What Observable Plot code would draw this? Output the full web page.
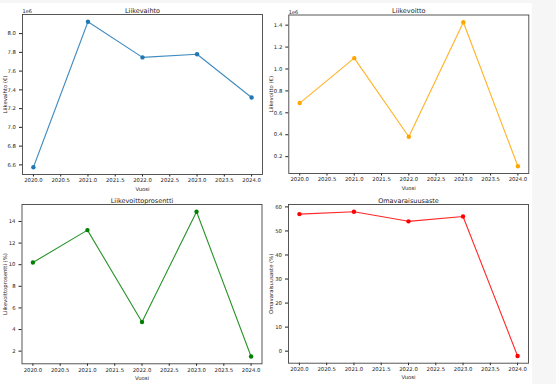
<!DOCTYPE html>
<html><head><meta charset="utf-8">
<script src="https://cdn.jsdelivr.net/npm/d3@7"></script>
<script src="https://cdn.jsdelivr.net/npm/@observablehq/plot@0.6"></script>
<style>
html,body{margin:0;padding:0;background:#f6f6f6;}
#fig{position:relative;width:556px;height:384px;overflow:hidden;background:#f6f6f6;}
#paper{position:absolute;left:0;top:3px;width:532px;height:381px;background:#fff;}
.panel{position:absolute;}
.panel svg{overflow:visible;}
</style></head><body><div id="fig"><div id="paper"></div></div>
<script>
const years = [2020, 2021, 2022, 2023, 2024];
const xTicks = [2020, 2020.5, 2021, 2021.5, 2022, 2022.5, 2023, 2023.5, 2024];
const liikevaihto = [6575000, 8126000, 7746000, 7780000, 7319000];
const liikevoitto = [689000, 1099000, 382000, 1427000, 112000];
const liikevoittoprosentti = [10.2, 13.2, 4.7, 14.9, 1.5];
const omavaraisuusaste = [57, 58, 54, 56, -2];
const ticksLiikevaihto = [6.6e6, 6.8e6, 7.0e6, 7.2e6, 7.4e6, 7.6e6, 7.8e6, 8.0e6];
const ticksLiikevoitto = [0.2e6, 0.4e6, 0.6e6, 0.8e6, 1.0e6, 1.2e6, 1.4e6];
const ticksProsentti = [2, 4, 6, 8, 10, 12, 14];
const ticksOmavaraisuus = [0, 10, 20, 30, 40, 50, 60];
const titles = ["Liikevaihto", "Liikevoitto", "Liikevoittoprosentti", "Omavaraisuusaste"];
const ylabels = ["Liikevaihto (€)", "Liikevoitto (€)", "Liikevoittoprosentti (%)", "Omavaraisuusaste (%)"];
const xlabel = "Vuosi";
const colors = ["#1f77b4", "#ffa500", "#008000", "#ff0000"];

function pad(ext) { const p = (ext[1] - ext[0]) * 0.05; return [ext[0] - p, ext[1] + p]; }

function panel({values, color, title, ylabel, yTicks, yFmt, exp, left, top, width, height, mL, mR, mT, mB, labelX}) {
  const data = years.map((y, i) => ({year: y, value: values[i]}));
  const chart = Plot.plot({
    width, height, marginLeft: mL, marginRight: mR, marginTop: mT, marginBottom: mB,
    style: {fontFamily: "DejaVu Sans", fontSize: "5.3px", color: "#222", background: "transparent"},
    x: {domain: pad(d3.extent(years))},
    y: {domain: pad(d3.extent(values))},
    marks: [
      Plot.axisX({ticks: xTicks, tickFormat: d => d.toFixed(1), tickSize: 2.5, tickPadding: 1.5,
        label: xlabel, labelAnchor: "center", labelArrow: "none", labelOffset: 16}),
      Plot.axisY({ticks: yTicks, tickFormat: yFmt, tickSize: 3, tickPadding: 3.5, label: null}),
      Plot.text([ylabel], {text: d => d, frameAnchor: "left", rotate: -90, dx: -(mL - labelX),
        textAnchor: "middle", lineAnchor: "top", fill: "#222", fontSize: 5.3}),
      Plot.line(data, {x: "year", y: "value", stroke: color, strokeWidth: 1.1, strokeOpacity: 0.85}),
      Plot.dot(data, {x: "year", y: "value", fill: color, r: 2.2}),
      Plot.frame({stroke: "#444", strokeWidth: 0.9}),
      Plot.text([title], {text: d => d, frameAnchor: "top", dy: -2, lineAnchor: "bottom", fontSize: 6.5, fill: "#222"}),
      exp ? Plot.text([exp], {text: d => d, frameAnchor: "top-left", dy: -1.5, lineAnchor: "bottom", textAnchor: "start", fontSize: 5, fill: "#222"}) : null
    ]
  });
  const div = document.createElement("div");
  div.className = "panel";
  div.style.left = left + "px";
  div.style.top = top + "px";
  div.appendChild(chart);
  document.getElementById("fig").appendChild(div);
}

panel({values: liikevaihto, color: colors[0], title: titles[0], ylabel: ylabels[0], yTicks: ticksLiikevaihto,
  yFmt: d => (d / 1e6).toFixed(1), exp: "1e6", left: 0, top: 0, width: 278, height: 192, mL: 22, mR: 16, mT: 14, mB: 18, labelX: 2.5});
panel({values: liikevoitto, color: colors[1], title: titles[1], ylabel: ylabels[1], yTicks: ticksLiikevoitto,
  yFmt: d => (d / 1e6).toFixed(1), exp: "1e6", left: 262, top: 0, width: 294, height: 192, mL: 26.3, mR: 27.7, mT: 14.5, mB: 19, labelX: 7});
panel({values: liikevoittoprosentti, color: colors[2], title: titles[2], ylabel: ylabels[2], yTicks: ticksProsentti,
  yFmt: d => String(d), exp: null, left: 0, top: 192, width: 278, height: 192, mL: 21.5, mR: 16.5, mT: 12, mB: 20.7, labelX: 2.5});
panel({values: omavaraisuusaste, color: colors[3], title: titles[3], ylabel: ylabels[3], yTicks: ticksOmavaraisuus,
  yFmt: d => String(d), exp: null, left: 262, top: 192, width: 294, height: 192, mL: 26, mR: 28, mT: 12, mB: 21.3, labelX: 7});
</script></body></html>
